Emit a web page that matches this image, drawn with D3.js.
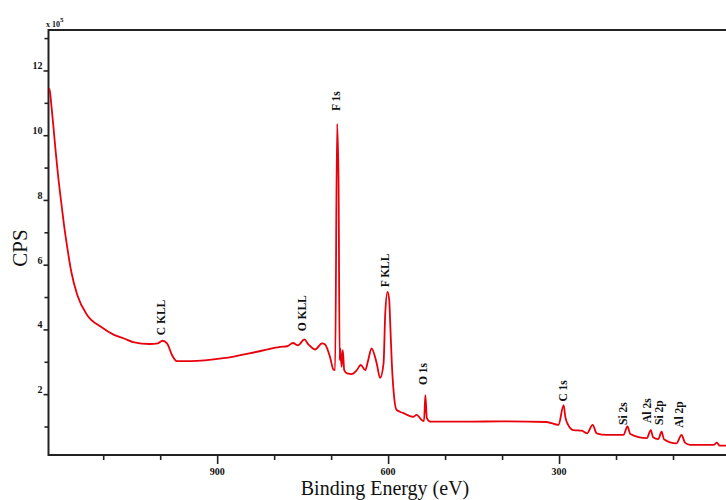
<!DOCTYPE html>
<html>
<head>
<meta charset="utf-8">
<script src="https://cdn.jsdelivr.net/npm/d3@7"></script>
<style>
  body { margin: 0; background: #fff; }
  svg { display: block; }
</style>
</head>
<body>
<svg class="xps"></svg>
<script>
// survey spectrum, binding energy (eV) vs counts (x 10^5)
var energy = [1195, 1193.4, 1191, 1187.6, 1183.4, 1179.3, 1174.6, 1168.8, 1162.9, 1156, 1145.5, 1128, 1104, 1081, 1063.5, 1047.7,
  1018, 1004, 996, 988, 979, 971,
  947, 889, 830, 789, 777, 767, 758, 747, 740, 728, 716, 711, 702, 696, 693, 689.5, 687, 685, 684, 681.6,
  679.5, 677, 672, 664, 655, 648, 640, 635, 629, 620, 614, 608, 605, 601, 598, 596.5, 593.5, 589.5, 585,
  574, 556, 550, 541, 537, 534.6, 532, 526, 456, 404, 322, 301, 292, 289, 284, 275, 260, 251, 241, 234,
  216, 187, 180, 175, 146, 139, 135, 126, 120, 116, 94, 85, 79, 70, 29, 23, 18, 0];
var cps = [11.45, 11.34, 10.93, 10.31, 9.49, 8.77, 8.06, 7.23, 6.51, 5.78, 5.06, 4.44, 4.08, 3.83, 3.72, 3.61,
  3.55, 3.57, 3.65, 3.57, 3.2, 3.02,
  3.02, 3.11, 3.31, 3.46, 3.48, 3.58, 3.51, 3.69, 3.54, 3.38, 3.57, 3.54, 3.15, 2.76, 2.74, 10.35, 8.6, 3.05, 3.42, 2.84,
  3.36, 2.74, 2.64, 2.62, 2.74, 2.9, 2.74, 3.05, 3.41, 2.95, 2.5, 2.95, 4.5, 5.16, 4.9, 4.28, 2.96, 1.92, 1.51,
  1.42, 1.3, 1.36, 1.2, 1.17, 1.97, 1.26, 1.15, 1.15, 1.16, 1.14, 1.05, 1.66, 1.3, 1.05, 0.89, 0.87, 0.79, 1.05, 0.79,
  0.74, 0.74, 1.0, 0.77, 0.64, 0.89, 0.67, 0.61, 0.84, 0.61, 0.48, 0.74, 0.5, 0.43, 0.43, 0.5, 0.41, 0.41];

// peak annotations: name, energy, counts at the foot of the label
var peakNames = ["C KLL", "O KLL", "F 1s", "F KLL", "O 1s", "C 1s", "Si 2s", "Al 2s", "Si 2p", "Al 2p"];
var peakEnergy = [999, 751, 691, 605, 539, 293, 188, 146, 124, 89];
var peakLabelAt = [3.82, 3.94, 10.75, 5.3, 2.28, 1.77, 1.05, 1.11, 1.05, 0.96];

var xTicks = [1100, 1000, 900, 800, 700, 600, 500, 400, 300, 200, 100, 0];
var xTickLabels = [900, 600, 300, 0];
var yTicks = [1, 2, 3, 4, 5, 6, 7, 8, 9, 10, 11, 12, 13];
var yTickLabels = [2, 4, 6, 8, 10, 12];

var W = 726, H = 500;
var margin = {top: 30, left: 48.5, bottom: 455};

var svg = d3.select(".xps")
    .attr("width", W)
    .attr("height", H);

var x = d3.scaleLinear().domain([1196, 0]).range([margin.left, 730]);
var y = d3.scaleLinear().domain([0.12, 13.25]).range([margin.bottom, margin.top]);

var axisColor = "#222";
var serif = "'Liberation Serif', 'Times New Roman', serif";

// x axis ticks (every 100 eV, longer on labelled ones)
var xg = svg.append("g").attr("transform", "translate(0," + margin.bottom + ")");
xg.call(d3.axisBottom(x).tickValues(xTicks).tickSize(5).tickFormat(""));
xg.select(".domain").remove();
xg.selectAll(".tick line")
    .attr("stroke", axisColor)
    .attr("stroke-width", 1.6)
    .attr("y2", function(d){ return xTickLabels.indexOf(d) >= 0 ? 9 : 5; });
xg.selectAll(".tick text").remove();

xg.selectAll("text.xl")
    .data(xTickLabels)
    .enter().append("text")
    .attr("class", "xl")
    .attr("x", function(d){ return x(d); })
    .attr("y", 20)
    .attr("text-anchor", "middle")
    .attr("font-family", serif)
    .attr("font-weight", "bold")
    .attr("font-size", "10px")
    .attr("fill", "#111")
    .text(function(d){ return d; });

// y axis ticks
var yg = svg.append("g").attr("transform", "translate(" + margin.left + ",0)");
yg.call(d3.axisLeft(y).tickValues(yTicks).tickSize(4).tickFormat(""));
yg.select(".domain").remove();
yg.selectAll(".tick line")
    .attr("stroke", axisColor)
    .attr("stroke-width", 1.6)
    .attr("x2", function(d){ return yTickLabels.indexOf(d) >= 0 ? -5 : -4; });

yg.selectAll("text.yl")
    .data(yTickLabels)
    .enter().append("text")
    .attr("class", "yl")
    .attr("x", -6)
    .attr("y", function(d){ return y(d); })
    .attr("dy", "-0.1em")
    .attr("text-anchor", "end")
    .attr("font-family", serif)
    .attr("font-weight", "bold")
    .attr("font-size", "10px")
    .attr("fill", "#111")
    .text(function(d){ return d; });

// frame: left, bottom and top lines
svg.append("path")
    .attr("d", "M" + W + "," + margin.top + "H" + margin.left + "V" + margin.bottom + "H" + W)
    .attr("fill", "none")
    .attr("stroke", axisColor)
    .attr("stroke-width", 2);

// scale factor note
var sf = svg.append("text")
    .attr("x", 46)
    .attr("y", 27)
    .attr("font-family", serif)
    .attr("font-weight", "bold")
    .attr("font-size", "8px")
    .attr("fill", "#111");
sf.append("tspan").text("x 10");
sf.append("tspan").attr("dy", -5).attr("font-size", "7px").text("5");

// spectrum
var pts = energy.map(function(e, i){ return [e, cps[i]]; });
var line = d3.line()
    .curve(d3.curveMonotoneX)
    .x(function(d){ return x(d[0]); })
    .y(function(d){ return y(d[1]); });

svg.append("clipPath").attr("id", "plotclip")
  .append("rect")
    .attr("x", margin.left).attr("y", margin.top)
    .attr("width", W - margin.left).attr("height", margin.bottom - margin.top);

svg.append("path")
    .datum(pts)
    .attr("clip-path", "url(#plotclip)")
    .attr("d", line)
    .attr("fill", "none")
    .attr("stroke", "#e8000b")
    .attr("stroke-width", 1.8)
    .attr("stroke-linejoin", "round");

// peak labels, rotated
peakNames.forEach(function(name, i){
  var px = x(peakEnergy[i]), py = y(peakLabelAt[i]);
  svg.append("text")
      .attr("class", "peak")
      .attr("transform", "translate(" + px + "," + py + ") rotate(-90)")
      .attr("dy", "0.35em")
      .attr("text-anchor", "start")
      .attr("font-family", serif)
      .attr("font-weight", "bold")
      .attr("font-size", "11.5px")
      .attr("fill", "#111")
      .text(name);
});

// axis titles
svg.append("text")
    .attr("transform", "translate(27,248) rotate(-90)")
    .attr("text-anchor", "middle")
    .attr("font-family", serif)
    .attr("font-size", "21px")
    .attr("fill", "#111")
    .text("CPS");

svg.append("text")
    .attr("x", 385)
    .attr("y", 495)
    .attr("text-anchor", "middle")
    .attr("font-family", serif)
    .attr("font-size", "20px")
    .attr("fill", "#111")
    .text("Binding Energy (eV)");
</script>
</body>
</html>
